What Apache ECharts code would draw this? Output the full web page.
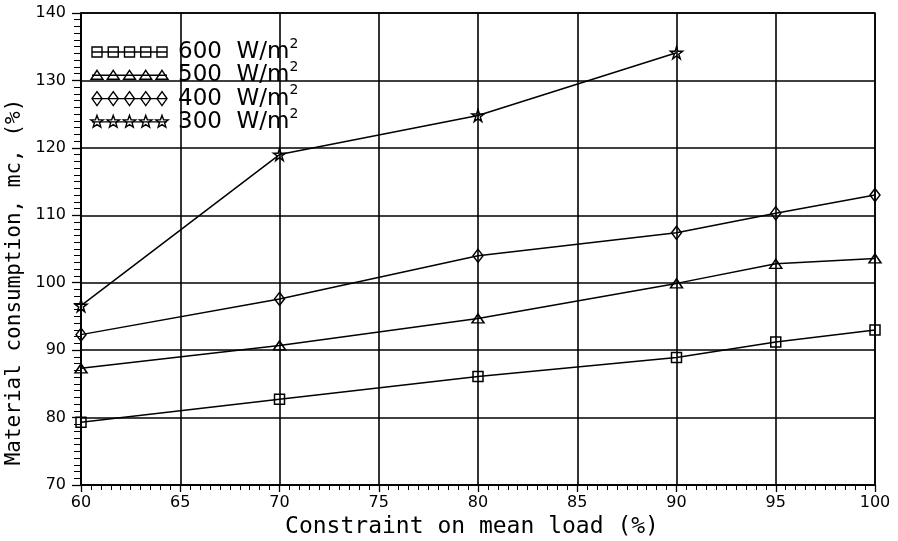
<!DOCTYPE html>
<html>
<head>
<meta charset="utf-8">
<title>Material consumption vs. constraint on mean load</title>
<script src="https://cdn.jsdelivr.net/npm/echarts@6/dist/echarts.min.js"></script>
<style>
  html, body { margin: 0; padding: 0; background: #fff; }
  #chart { width: 898px; height: 541px; }
</style>
</head>
<body>
<div id="chart"></div>
<script>
// Constraint on mean load (%)
const loads = [60, 70, 80, 90, 95, 100];
const loads300 = [60, 70, 80, 90];

// Material consumption (%) per irradiance level
const mc600 = [79.3, 82.7, 86.1, 88.9, 91.2, 93.0];
const mc500 = [87.3, 90.7, 94.7, 99.9, 102.8, 103.6];
const mc400 = [92.3, 97.6, 104.0, 107.4, 110.3, 113.0];
const mc300 = [96.6, 119.0, 124.8, 134.1];

const seriesNames = ['600', '500', '400', '300'];

const FONT = 'DejaVu Sans';
const TITLE_FONT = 'DejaVu Sans Mono';
const INK = '#000';

const STAR = 'path://M50,0 L61.2,34.5 L97.6,34.5 L68.2,55.9 L79.4,90.5 L50,69.1 L20.6,90.5 L31.8,55.9 L2.4,34.5 L38.8,34.5 Z';

const markerDefs = [
  { symbol: 'rect', size: 10 },
  { symbol: 'triangle', size: [12, 9] },
  { symbol: 'diamond', size: [10, 13] },
  { symbol: STAR, size: 12 }
];

function pairs(xs, ys) {
  return xs.map((x, i) => [x, ys[i]]);
}

function makeSeries(name, xs, ys, def) {
  return {
    name: name,
    type: 'line',
    data: pairs(xs, ys),
    symbol: def.symbol,
    symbolSize: def.size,
    showSymbol: true,
    silent: true,
    z: 5,
    lineStyle: { color: INK, width: 1.5 },
    itemStyle: { color: 'rgba(0,0,0,0)', borderColor: INK, borderWidth: 1.5 },
    emphasis: { disabled: true }
  };
}

// Legend samples: a short line with five hollow markers
function legendMarker(kind, cx, cy) {
  const common = { style: { fill: 'none', stroke: INK, lineWidth: 1.4 }, z: 20 };
  if (kind === 0) {
    return Object.assign({ type: 'rect', shape: { x: cx - 5, y: cy - 5, width: 10, height: 10 } }, common);
  }
  if (kind === 1) {
    return Object.assign({ type: 'polygon', shape: { points: [[cx, cy - 5], [cx + 6, cy + 4], [cx - 6, cy + 4]] } }, common);
  }
  if (kind === 2) {
    return Object.assign({ type: 'polygon', shape: { points: [[cx, cy - 7], [cx + 5, cy], [cx, cy + 7], [cx - 5, cy]] } }, common);
  }
  const pts = [];
  for (let k = 0; k < 10; k++) {
    const r = k % 2 === 0 ? 6.5 : 2.7;
    const a = -Math.PI / 2 + k * Math.PI / 5;
    pts.push([cx + r * Math.cos(a), cy + r * Math.sin(a)]);
  }
  return Object.assign({ type: 'polygon', shape: { points: pts } }, common);
}

const legendGraphics = [];
const legendTop = 52;
const legendStep = 23.3;
seriesNames.forEach((n, i) => {
  const cy = legendTop + i * legendStep;
  legendGraphics.push({
    type: 'line', z: 19,
    shape: { x1: 92, y1: cy, x2: 167, y2: cy },
    style: { stroke: INK, lineWidth: 1.4 }
  });
  [97, 113.25, 129.5, 145.75, 162].forEach(mx => legendGraphics.push(legendMarker(i, mx, cy)));
  legendGraphics.push({
    type: 'text', z: 20,
    x: 178, y: cy,
    style: {
      text: '{a|' + n + '  W/m}{b|2}',
      verticalAlign: 'middle',
      fill: INK,
      rich: {
        a: { fontFamily: FONT, fontSize: 23, lineHeight: 30, fill: INK },
        b: { fontFamily: FONT, fontSize: 14, lineHeight: 14, verticalAlign: 'top', fill: INK }
      }
    }
  });
});

const chart = echarts.init(document.getElementById('chart'), null, { renderer: 'canvas' });

chart.setOption({
  animation: false,
  backgroundColor: '#fff',
  grid: {
    left: 81, right: 23, top: 13, bottom: 56,
    show: true, borderColor: INK, borderWidth: 1.5,
    backgroundColor: 'rgba(0,0,0,0)',
    outerBoundsMode: 'none', containLabel: false
  },
  xAxis: {
    type: 'value', min: 60, max: 100, interval: 5,
    axisLine: { show: true, onZero: false, lineStyle: { color: INK, width: 1.6 } },
    axisTick: { show: true, inside: false, length: 7, lineStyle: { color: INK, width: 1.3 } },
    minorTick: { show: true, splitNumber: 10, length: 5, lineStyle: { color: INK, width: 1 } },
    splitLine: { show: true, lineStyle: { color: INK, width: 1.6 } },
    axisLabel: { color: INK, fontFamily: FONT, fontSize: 16, margin: 10, showMinLabel: true, showMaxLabel: true },
    name: 'Constraint on mean load (%)',
    nameLocation: 'middle', nameGap: 21,
    nameTextStyle: { color: INK, fontFamily: TITLE_FONT, fontSize: 23, padding: [0, 12, 0, 0] }
  },
  yAxis: {
    type: 'value', min: 70, max: 140, interval: 10,
    axisLine: { show: true, onZero: false, lineStyle: { color: INK, width: 1.6 } },
    axisTick: { show: true, inside: false, length: 9, lineStyle: { color: INK, width: 1.3 } },
    minorTick: { show: true, splitNumber: 10, length: 7, lineStyle: { color: INK, width: 1 } },
    splitLine: { show: true, lineStyle: { color: INK, width: 1.6 } },
    axisLabel: { color: INK, fontFamily: FONT, fontSize: 16, margin: 15, showMinLabel: true, showMaxLabel: true },
    name: 'Material consumption, mc, (%)',
    nameLocation: 'middle', nameGap: 41, nameRotate: 90,
    nameTextStyle: { color: INK, fontFamily: TITLE_FONT, fontSize: 21, padding: [0, 66, 0, 0] }
  },
  series: [
    makeSeries('600 W/m2', loads, mc600, markerDefs[0]),
    makeSeries('500 W/m2', loads, mc500, markerDefs[1]),
    makeSeries('400 W/m2', loads, mc400, markerDefs[2]),
    makeSeries('300 W/m2', loads300, mc300, markerDefs[3])
  ],
  graphic: legendGraphics
});
</script>
</body>
</html>
